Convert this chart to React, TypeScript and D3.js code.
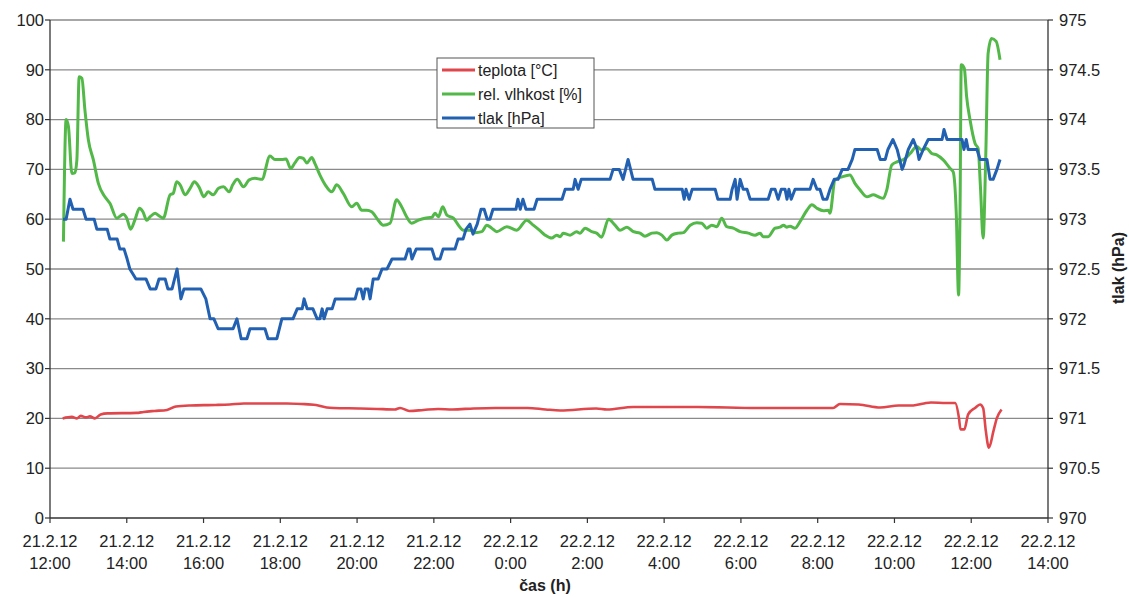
import React from 'react';
import * as d3 from 'd3';

// Hours since 21.2.12 12:00
const xTickHours = [0, 2, 4, 6, 8, 10, 12, 14, 16, 18, 20, 22, 24, 26];
const xTickDates = ['21.2.12', '21.2.12', '21.2.12', '21.2.12', '21.2.12', '21.2.12', '22.2.12', '22.2.12', '22.2.12', '22.2.12', '22.2.12', '22.2.12', '22.2.12', '22.2.12'];
const xTickTimes = ['12:00', '14:00', '16:00', '18:00', '20:00', '22:00', '0:00', '2:00', '4:00', '6:00', '8:00', '10:00', '12:00', '14:00'];
const leftTicks = [0, 10, 20, 30, 40, 50, 60, 70, 80, 90, 100];
const rightTicks = [970, 970.5, 971, 971.5, 972, 972.5, 973, 973.5, 974, 974.5, 975];
const rightTickLabels = ['970', '970.5', '971', '971.5', '972', '972.5', '973', '973.5', '974', '974.5', '975'];

const seriesNames = ['teplota [°C]', 'rel. vlhkost [%]', 'tlak [hPa]'];
const seriesColors = ['#e0474c', '#52b848', '#2260b2'];

// teplota [°C] : [hours, value]
const teplota: [number, number][] = [
  [0.33, 20.0], [0.57, 20.3], [0.7, 20.0], [0.8, 20.5], [0.94, 20.2], [1.04, 20.4], [1.17, 20.0],
  [1.32, 20.8], [1.5, 21.0], [2.25, 21.1], [2.44, 21.3], [2.72, 21.5], [3.05, 21.7], [3.28, 22.4],
  [3.65, 22.6], [4.31, 22.7], [4.68, 22.8], [5.05, 23.0], [6.17, 23.0], [6.55, 22.9], [6.93, 22.7],
  [7.21, 22.2], [7.39, 22.1], [8.05, 22.0], [8.52, 21.9], [8.98, 21.8], [9.12, 22.1], [9.36, 21.5],
  [9.73, 21.7], [10.11, 21.9], [10.48, 21.8], [11.04, 22.0], [11.6, 22.1], [12.44, 22.1], [12.91, 21.8],
  [13.29, 21.6], [14.23, 22.0], [14.51, 21.8], [15.19, 22.3], [16.88, 22.3], [18.42, 22.1], [19.46, 22.1],
  [20.4, 22.1], [20.58, 22.9], [21.07, 22.8], [21.63, 22.2], [22.11, 22.6], [22.49, 22.6], [22.77, 23.0],
  [22.95, 23.2], [23.35, 23.1], [23.58, 23.1], [23.68, 20.1], [23.72, 17.8], [23.82, 17.8], [23.92, 20.8],
  [24.1, 22.1], [24.23, 22.8], [24.31, 22.1], [24.38, 17.5], [24.46, 14.1], [24.58, 17.5], [24.67, 20.1],
  [24.79, 21.8],
];

// rel. vlhkost [%] : [hours, value]
const vlhkost: [number, number][] = [
  [0.35, 55.5], [0.42, 80.0], [0.48, 78.6], [0.57, 69.2], [0.65, 69.3], [0.7, 71.9], [0.76, 88.6],
  [0.83, 88.3], [0.91, 81.9], [1.0, 75.9], [1.13, 71.9], [1.26, 67.2], [1.43, 64.5], [1.56, 63.2],
  [1.74, 60.2], [1.91, 61.0], [2.0, 60.2], [2.1, 58.0], [2.21, 59.8], [2.33, 62.2], [2.42, 61.5],
  [2.52, 59.8], [2.61, 60.5], [2.74, 61.2], [2.82, 60.8], [2.95, 60.2], [3.13, 64.9], [3.21, 65.2],
  [3.3, 67.5], [3.39, 66.9], [3.52, 64.9], [3.65, 66.2], [3.76, 67.5], [3.88, 66.5], [4.01, 64.5],
  [4.12, 65.5], [4.25, 64.9], [4.39, 66.2], [4.52, 66.5], [4.67, 65.5], [4.76, 66.9], [4.88, 68.0],
  [5.04, 66.5], [5.19, 67.9], [5.34, 68.2], [5.52, 68.0], [5.73, 72.7], [5.86, 72.0], [6.04, 72.0],
  [6.15, 72.1], [6.27, 70.2], [6.38, 71.3], [6.5, 72.4], [6.6, 72.2], [6.69, 71.3], [6.82, 72.4],
  [6.9, 71.2], [7.03, 68.9], [7.17, 66.9], [7.34, 65.5], [7.47, 66.9], [7.64, 65.2], [7.86, 62.5],
  [7.99, 63.2], [8.12, 61.8], [8.25, 61.8], [8.38, 61.5], [8.55, 59.8], [8.68, 58.8], [8.86, 59.2],
  [9.03, 63.9], [9.16, 62.5], [9.29, 60.5], [9.42, 59.2], [9.6, 59.8], [9.77, 60.2], [9.95, 60.4],
  [10.03, 61.2], [10.12, 60.5], [10.23, 62.5], [10.34, 60.8], [10.51, 60.2], [10.64, 58.8], [10.77, 57.8],
  [10.94, 57.8], [11.07, 57.3], [11.25, 57.5], [11.38, 58.8], [11.51, 58.2], [11.64, 57.5], [11.9, 58.5],
  [12.16, 57.8], [12.42, 59.8], [12.59, 58.8], [12.75, 57.8], [12.9, 56.8], [13.07, 56.2], [13.2, 56.8],
  [13.29, 56.5], [13.37, 57.2], [13.55, 56.8], [13.72, 57.5], [13.81, 57.2], [13.94, 58.2], [14.11, 57.5],
  [14.24, 57.2], [14.37, 56.4], [14.55, 60.0], [14.72, 58.8], [14.85, 57.8], [15.03, 58.4], [15.2, 57.5],
  [15.37, 57.2], [15.5, 56.6], [15.68, 57.2], [15.81, 57.3], [15.94, 56.8], [16.07, 55.8], [16.2, 56.8],
  [16.37, 57.2], [16.5, 57.3], [16.68, 58.8], [16.85, 59.3], [16.98, 59.2], [17.11, 58.2], [17.24, 58.8],
  [17.37, 58.5], [17.5, 60.2], [17.63, 58.5], [17.8, 58.2], [17.98, 57.5], [18.19, 57.2], [18.37, 56.8],
  [18.5, 57.2], [18.58, 56.5], [18.71, 56.5], [18.89, 58.2], [19.02, 58.4], [19.11, 58.8], [19.19, 58.4],
  [19.28, 58.6], [19.41, 58.2], [19.54, 59.5], [19.72, 61.8], [19.85, 62.9], [19.98, 62.2], [20.15, 61.7],
  [20.28, 61.8], [20.32, 61.2], [20.45, 67.9], [20.63, 68.5], [20.84, 68.9], [20.97, 67.2], [21.1, 65.9],
  [21.28, 64.5], [21.45, 64.9], [21.58, 64.5], [21.71, 64.2], [21.8, 65.9], [21.93, 70.9], [22.1, 71.6],
  [22.28, 72.2], [22.41, 73.2], [22.58, 74.6], [22.71, 73.9], [22.84, 74.2], [22.97, 73.2], [23.1, 72.9],
  [23.27, 71.9], [23.45, 70.2], [23.53, 69.5], [23.61, 61.2], [23.67, 44.8], [23.71, 63.2], [23.74, 91.0],
  [23.82, 90.3], [23.88, 84.6], [23.97, 79.9], [24.1, 75.2], [24.18, 74.2], [24.24, 66.5], [24.31, 56.2],
  [24.38, 73.2], [24.44, 93.3], [24.53, 96.3], [24.65, 95.7], [24.75, 92.0],
];

// tlak [hPa] : [hours, value]
const tlak: [number, number][] = [
  [0.34, 973.0], [0.42, 973.0], [0.52, 973.2], [0.6, 973.1], [0.86, 973.1], [0.94, 973.0], [1.15, 973.0],
  [1.22, 972.9], [1.49, 972.9], [1.56, 972.8], [1.75, 972.8], [1.82, 972.7], [1.93, 972.7], [2.01, 972.6],
  [2.08, 972.5], [2.24, 972.4], [2.5, 972.4], [2.61, 972.3], [2.76, 972.3], [2.84, 972.4], [3.0, 972.4],
  [3.07, 972.3], [3.18, 972.3], [3.31, 972.5], [3.41, 972.2], [3.49, 972.3], [3.93, 972.3], [4.06, 972.2],
  [4.17, 972.0], [4.27, 972.0], [4.38, 971.9], [4.77, 971.9], [4.87, 972.0], [4.98, 971.8], [5.13, 971.8],
  [5.21, 971.9], [5.6, 971.9], [5.68, 971.8], [5.91, 971.8], [6.04, 972.0], [6.33, 972.0], [6.44, 972.1],
  [6.57, 972.1], [6.62, 972.2], [6.7, 972.1], [6.85, 972.1], [6.96, 972.0], [7.03, 972.0], [7.09, 972.1],
  [7.14, 972.0], [7.22, 972.1], [7.35, 972.1], [7.43, 972.2], [7.95, 972.2], [8.02, 972.3], [8.1, 972.3],
  [8.16, 972.2], [8.21, 972.3], [8.29, 972.3], [8.34, 972.2], [8.42, 972.4], [8.55, 972.4], [8.65, 972.5],
  [8.78, 972.5], [8.91, 972.6], [9.25, 972.6], [9.33, 972.7], [9.38, 972.7], [9.43, 972.6], [9.54, 972.7],
  [9.95, 972.7], [10.03, 972.6], [10.16, 972.6], [10.24, 972.7], [10.55, 972.7], [10.63, 972.8], [10.76, 972.8],
  [10.84, 972.9], [10.94, 972.95], [11.02, 972.85], [11.13, 972.95], [11.23, 973.1], [11.31, 973.1], [11.39, 973.0],
  [11.46, 973.0], [11.54, 973.1], [12.14, 973.1], [12.19, 973.2], [12.25, 973.1], [12.32, 973.2], [12.4, 973.1],
  [12.61, 973.1], [12.69, 973.2], [13.34, 973.2], [13.42, 973.3], [13.63, 973.3], [13.68, 973.4], [13.76, 973.3],
  [13.84, 973.4], [14.59, 973.4], [14.67, 973.5], [14.83, 973.5], [14.93, 973.4], [15.06, 973.6], [15.19, 973.4],
  [15.69, 973.4], [15.76, 973.3], [16.47, 973.3], [16.52, 973.2], [16.57, 973.3], [16.65, 973.2], [16.73, 973.3],
  [17.33, 973.3], [17.4, 973.2], [17.72, 973.2], [17.77, 973.3], [17.85, 973.4], [17.9, 973.2], [17.98, 973.4],
  [18.06, 973.3], [18.16, 973.3], [18.24, 973.2], [18.71, 973.2], [18.79, 973.3], [18.89, 973.3], [18.97, 973.2],
  [19.05, 973.3], [19.15, 973.3], [19.2, 973.2], [19.25, 973.3], [19.31, 973.2], [19.41, 973.3], [19.8, 973.3],
  [19.88, 973.4], [19.98, 973.3], [20.06, 973.3], [20.14, 973.2], [20.24, 973.2], [20.32, 973.3], [20.43, 973.4],
  [20.53, 973.4], [20.64, 973.5], [20.79, 973.5], [20.9, 973.6], [20.97, 973.7], [21.55, 973.7], [21.63, 973.6],
  [21.76, 973.6], [21.83, 973.7], [21.96, 973.8], [22.07, 973.7], [22.2, 973.5], [22.25, 973.55], [22.36, 973.7],
  [22.49, 973.8], [22.59, 973.7], [22.64, 973.6], [22.75, 973.7], [22.88, 973.8], [23.24, 973.8], [23.29, 973.9],
  [23.37, 973.8], [23.76, 973.8], [23.81, 973.7], [23.87, 973.8], [23.92, 973.7], [24.15, 973.7], [24.23, 973.6],
  [24.41, 973.6], [24.49, 973.4], [24.57, 973.4], [24.67, 973.5], [24.75, 973.6],
];

const W = 1129;
const H = 597;
const M = { left: 50, right: 1048, top: 20, bottom: 518 };
const FONT = '"Liberation Sans", Arial, Helvetica, sans-serif';

export default function App() {
  const x = d3.scaleLinear().domain([0, 26]).range([M.left, M.right]);
  const yL = d3.scaleLinear().domain([0, 100]).range([M.bottom, M.top]);
  const yR = d3.scaleLinear().domain([970, 975]).range([M.bottom, M.top]);

  const lineL = d3
    .line<[number, number]>()
    .x((d) => x(d[0]))
    .y((d) => yL(d[1]))
    .curve(d3.curveMonotoneX);
  const lineR = d3
    .line<[number, number]>()
    .x((d) => x(d[0]))
    .y((d) => yR(d[1]))
    .curve(d3.curveLinear);

  const legend = { x: 437, y: 58, w: 157, h: 70 };
  const legendRows = [70, 94, 118];

  return (
    <svg
      width={W}
      height={H}
      style={{ position: 'absolute', left: 0, top: 0, background: '#fff' }}
      fontFamily={FONT}
    >
      <rect x={0} y={0} width={W} height={H} fill="#fff" />
      {/* grid lines */}
      {leftTicks.slice(1).map((t) => (
        <line key={'g' + t} x1={M.left} x2={M.right} y1={yL(t)} y2={yL(t)} stroke="#8a8a8a" strokeWidth={1.3} />
      ))}
      {/* axes */}
      <line x1={M.left} x2={M.left} y1={M.top} y2={M.bottom} stroke="#333" strokeWidth={1.3} />
      <line x1={M.right} x2={M.right} y1={M.top} y2={M.bottom} stroke="#333" strokeWidth={1.3} />
      <line x1={M.left} x2={M.right} y1={M.bottom} y2={M.bottom} stroke="#333" strokeWidth={1.3} />
      {/* left ticks */}
      {leftTicks.map((t) => (
        <g key={'l' + t}>
          <line x1={M.left - 5} x2={M.left} y1={yL(t)} y2={yL(t)} stroke="#333" strokeWidth={1.2} />
          <text x={44} y={yL(t)} dy="0.35em" textAnchor="end" fontSize={16.5} fill="#222">
            {t}
          </text>
        </g>
      ))}
      {/* right ticks */}
      {rightTicks.map((t, i) => (
        <g key={'r' + t}>
          <line x1={M.right} x2={M.right + 5} y1={yR(t)} y2={yR(t)} stroke="#333" strokeWidth={1.2} />
          <text x={M.right + 11} y={yR(t)} dy="0.35em" textAnchor="start" fontSize={16.5} fill="#222">
            {rightTickLabels[i]}
          </text>
        </g>
      ))}
      {/* x ticks */}
      {xTickHours.map((h, i) => (
        <g key={'x' + h}>
          <line x1={x(h)} x2={x(h)} y1={M.bottom} y2={M.bottom + 5} stroke="#333" strokeWidth={1.2} />
          <text x={x(h)} y={547} textAnchor="middle" fontSize={16.5} fill="#222">
            {xTickDates[i]}
          </text>
          <text x={x(h)} y={569} textAnchor="middle" fontSize={16.5} fill="#222">
            {xTickTimes[i]}
          </text>
        </g>
      ))}
      {/* axis titles */}
      <text x={545} y={591} textAnchor="middle" fontSize={16} fontWeight="bold" fill="#222">
        čas (h)
      </text>
      <text
        transform={`translate(1124, ${268}) rotate(-90)`}
        textAnchor="middle"
        fontSize={16}
        fontWeight="bold"
        fill="#222"
      >
        tlak (hPa)
      </text>
      {/* series */}
      <path d={lineL(teplota) || ''} fill="none" stroke={seriesColors[0]} strokeWidth={2.6} strokeLinejoin="round" />
      <path d={lineL(vlhkost) || ''} fill="none" stroke={seriesColors[1]} strokeWidth={3} strokeLinejoin="round" />
      <path d={lineR(tlak) || ''} fill="none" stroke={seriesColors[2]} strokeWidth={3} strokeLinejoin="round" />
      {/* legend */}
      <rect x={legend.x} y={legend.y} width={legend.w} height={legend.h} fill="#fff" stroke="#555" strokeWidth={1} />
      {seriesNames.map((name, i) => (
        <g key={name}>
          <line x1={legend.x + 5} x2={legend.x + 38} y1={legendRows[i]} y2={legendRows[i]} stroke={seriesColors[i]} strokeWidth={3} />
          <text x={legend.x + 41} y={legendRows[i]} dy="0.35em" fontSize={16} fill="#222">
            {name}
          </text>
        </g>
      ))}
    </svg>
  );
}
